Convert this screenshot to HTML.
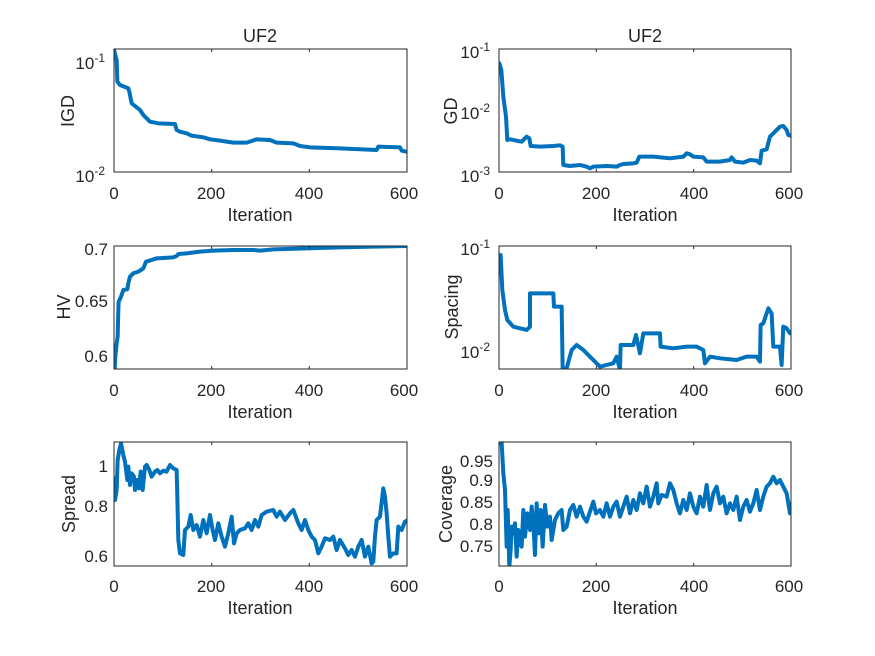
<!DOCTYPE html>
<html><head><meta charset="utf-8"><style>
body{margin:0;background:#fff}
svg{display:block;font-family:"Liberation Sans",Arial,sans-serif;fill:#262626}
.s{fill:none;stroke:#0072BD;stroke-width:12;stroke-linejoin:round;stroke-linecap:round}
.ax{fill:none;stroke:#262626;stroke-width:1}
text{font-size:17px;fill:#262626}
.t{font-size:18px}
</style></head><body>
<svg width="875" height="656" viewBox="0 0 875 656">
<rect width="875" height="656" fill="#fff"/>
<defs>
<clipPath id="c1"><rect x="114" y="49" width="293" height="123"/></clipPath>
<clipPath id="c2"><rect x="499" y="49" width="292" height="123"/></clipPath>
<clipPath id="c3"><rect x="114" y="246" width="293" height="123"/></clipPath>
<clipPath id="c4"><rect x="499" y="246" width="292" height="123"/></clipPath>
<clipPath id="c5"><rect x="114" y="442" width="293" height="124"/></clipPath>
<clipPath id="c6"><rect x="499" y="442" width="292" height="124"/></clipPath>
</defs>

<g clip-path="url(#c1)"><g transform="translate(40,20) scale(0.3333)">
<polyline class="s" points="222,90 230,120 232,185 240,195 265,205 268,215 275,250 300,270 310,285 330,305 355,310 405,312 410,330 420,335 440,340 455,347 490,352 510,358 540,362 580,368 620,368 650,358 690,360 710,368 760,370 780,378 810,382 900,385 1010,390 1015,380 1080,382 1085,392 1100,395"/></g></g>
<rect class="ax" x="114" y="49" width="293" height="123"/>
<g clip-path="url(#c2)"><g transform="translate(420,20) scale(0.3333)">
<polyline class="s" points="238,130 244,150 250,230 258,290 262,360 270,358 290,362 305,365 320,350 328,355 332,378 360,380 400,378 420,376 428,380 430,435 450,438 480,435 500,440 510,445 520,440 560,438 590,440 600,435 610,432 640,430 650,428 658,410 700,410 750,415 790,410 800,400 810,403 820,410 850,412 860,425 900,425 930,420 935,412 945,425 970,428 990,420 1010,422 1020,430 1025,392 1040,388 1050,350 1065,335 1080,320 1090,318 1100,330 1105,345 1115,348"/></g></g>
<rect class="ax" x="499" y="49" width="292" height="123"/>
<g clip-path="url(#c3)"><g transform="translate(40,230) scale(0.3333)">
<polyline class="s" points="224,420 226,380 230,340 233,320 235,240 236,215 243,200 250,180 262,178 265,160 270,140 280,130 295,125 310,115 318,95 335,90 350,85 400,82 410,78 415,72 440,70 480,65 520,62 580,60 640,60 660,62 700,58 800,55 900,52 1000,50 1100,48"/></g></g>
<rect class="ax" x="114" y="246" width="293" height="123"/>
<g clip-path="url(#c4)"><g transform="translate(420,230) scale(0.3333)">
<polyline class="s" points="237,90 242,75 247,180 255,240 262,270 280,290 300,295 320,300 330,290 330,190 400,190 402,230 425,230 428,415 440,415 455,360 470,345 490,360 510,380 520,390 540,410 560,405 580,400 590,380 600,420 602,345 640,345 648,315 660,370 670,310 720,310 722,350 760,355 800,350 830,350 850,360 855,400 870,380 900,385 950,390 980,380 1010,380 1020,395 1022,285 1030,280 1045,235 1055,250 1060,350 1080,350 1085,405 1090,290 1100,295 1110,310 1115,310"/></g></g>
<rect class="ax" x="499" y="246" width="292" height="123"/>
<g clip-path="url(#c5)"><g transform="translate(40,430) scale(0.3333)">
<polyline class="s" points="222,145 225,210 230,180 233,90 238,60 243,40 250,75 255,95 262,150 265,110 270,165 275,130 282,140 285,180 292,150 297,175 302,125 308,180 315,110 320,105 328,120 335,140 345,125 352,120 360,130 370,122 380,125 390,105 400,115 410,120 412,200 415,330 420,370 430,375 435,300 445,290 452,255 460,300 470,285 480,320 490,270 500,310 510,255 518,300 525,330 535,280 545,320 555,350 565,310 575,260 582,340 590,310 600,300 615,295 625,280 635,300 645,270 655,290 665,255 680,245 700,240 710,260 720,245 735,270 750,250 760,240 775,280 785,300 795,270 805,300 815,320 825,330 835,370 845,350 855,325 870,330 880,320 890,360 900,330 915,355 925,375 935,360 945,380 955,350 965,330 975,380 985,350 995,400 1000,395 1005,320 1010,270 1020,260 1030,175 1035,200 1040,250 1045,320 1050,380 1060,370 1070,370 1075,290 1085,300 1095,275 1100,272"/></g></g>
<rect class="ax" x="114" y="442" width="293" height="124"/>
<g clip-path="url(#c6)"><g transform="translate(420,430) scale(0.3333)">
<polyline class="s" points="240,40 245,38 250,130 255,180 260,350 263,240 268,410 272,360 275,290 280,310 285,280 290,380 295,300 300,340 305,350 310,240 315,320 322,250 330,300 335,230 340,280 345,375 350,220 356,310 362,240 368,350 375,225 382,290 390,260 395,330 405,270 415,250 425,240 430,300 440,290 450,240 460,225 470,260 480,230 490,260 500,275 510,245 520,215 528,250 540,240 550,260 560,220 570,260 580,230 590,215 600,260 610,230 620,200 630,250 640,210 650,240 660,190 670,220 680,170 690,230 700,200 710,160 715,220 725,195 740,200 750,160 760,180 770,220 780,250 790,210 800,240 810,190 820,230 830,250 840,200 850,230 860,165 870,240 880,190 890,170 900,220 910,200 920,250 930,220 940,240 950,200 960,270 970,230 980,210 990,245 1000,220 1010,180 1020,240 1030,200 1040,170 1050,160 1060,140 1070,160 1080,150 1090,170 1100,190 1110,250 1115,220"/></g></g>
<rect class="ax" x="499" y="442" width="292" height="124"/>

<g stroke="#262626" stroke-width="1">
<path d="M211.7,172v-3M309.3,172v-3M211.7,49v3M309.3,49v3M596.3,172v-3M693.7,172v-3M596.3,49v3M693.7,49v3
M211.7,369v-3M309.3,369v-3M211.7,246v3M309.3,246v3M596.3,369v-3M693.7,369v-3M596.3,246v3M693.7,246v3
M211.7,566v-3M309.3,566v-3M211.7,442v3M309.3,442v3M596.3,566v-3M693.7,566v-3M596.3,442v3M693.7,442v3"/>
</g>

<g text-anchor="middle">
<text x="114" y="199">0</text><text x="211" y="199">200</text><text x="309" y="199">400</text><text x="404" y="199">600</text>
<text x="499" y="199">0</text><text x="596" y="199">200</text><text x="694" y="199">400</text><text x="789" y="199">600</text>
<text x="114" y="396">0</text><text x="211" y="396">200</text><text x="309" y="396">400</text><text x="404" y="396">600</text>
<text x="499" y="396">0</text><text x="596" y="396">200</text><text x="694" y="396">400</text><text x="789" y="396">600</text>
<text x="114" y="592">0</text><text x="211" y="592">200</text><text x="309" y="592">400</text><text x="404" y="592">600</text>
<text x="499" y="592">0</text><text x="596" y="592">200</text><text x="694" y="592">400</text><text x="789" y="592">600</text>
</g>
<g text-anchor="middle">
<text class="t" x="260" y="221">Iteration</text><text class="t" x="645" y="221">Iteration</text>
<text class="t" x="260" y="418">Iteration</text><text class="t" x="645" y="418">Iteration</text>
<text class="t" x="260" y="614">Iteration</text><text class="t" x="645" y="614">Iteration</text>
<text class="t" x="260" y="42">UF2</text><text class="t" x="645" y="42">UF2</text>
</g>
<g text-anchor="end">
<text x="105" y="69">10<tspan dy="-7" font-size="12">-1</tspan></text>
<text x="105" y="182">10<tspan dy="-7" font-size="12">-2</tspan></text>
<text x="490" y="58">10<tspan dy="-7" font-size="12">-1</tspan></text>
<text x="490" y="119">10<tspan dy="-7" font-size="12">-2</tspan></text>
<text x="490" y="182">10<tspan dy="-7" font-size="12">-3</tspan></text>
<text x="108" y="255">0.7</text><text x="108" y="307">0.65</text><text x="108" y="362">0.6</text>
<text x="490" y="255">10<tspan dy="-7" font-size="12">-1</tspan></text>
<text x="490" y="358">10<tspan dy="-7" font-size="12">-2</tspan></text>
<text x="108" y="472">1</text><text x="108" y="512">0.8</text><text x="108" y="562">0.6</text>
<text x="493" y="467">0.95</text><text x="493" y="486">0.9</text><text x="493" y="508">0.85</text><text x="493" y="530">0.8</text><text x="493" y="552">0.75</text>
</g>
<g text-anchor="middle">
<text class="t" transform="translate(74,111) rotate(-90)">IGD</text>
<text class="t" transform="translate(457,111) rotate(-90)">GD</text>
<text class="t" transform="translate(70,307) rotate(-90)">HV</text>
<text class="t" transform="translate(458,307) rotate(-90)">Spacing</text>
<text class="t" transform="translate(75,504) rotate(-90)">Spread</text>
<text class="t" transform="translate(452,504) rotate(-90)">Coverage</text>
</g>
</svg>
</body></html>
